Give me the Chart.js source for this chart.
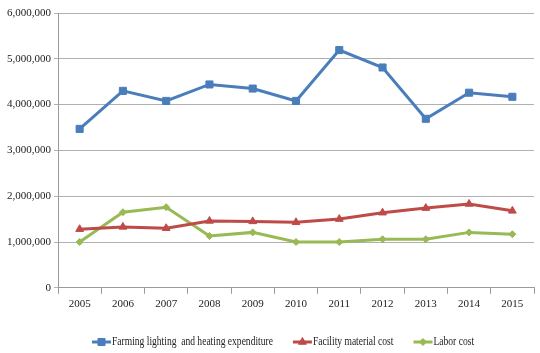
<!DOCTYPE html>
<html lang="en">
<head>
  <meta charset="UTF-8" />
  <title>Cost trends 2005-2015</title>
  <script src="https://cdn.jsdelivr.net/npm/chart.js"></script>
  <style>
    html, body { margin: 0; padding: 0; background: #fff; }
    #wrap { width: 540px; height: 353px; }
  </style>
</head>
<body>
  <div id="wrap"><canvas id="lineChart" width="540" height="353"></canvas></div>

  <script>
    // data
    const years = ['2005', '2006', '2007', '2008', '2009', '2010', '2011', '2012', '2013', '2014', '2015'];
    const lightingHeating = [3470000, 4300000, 4080000, 4440000, 4350000, 4080000, 5190000, 4810000, 3690000, 4260000, 4170000];
    const facilityMaterial = [1280000, 1330000, 1300000, 1460000, 1450000, 1430000, 1500000, 1640000, 1740000, 1830000, 1680000];
    const laborCost = [1000000, 1650000, 1760000, 1130000, 1210000, 1000000, 1000000, 1060000, 1060000, 1210000, 1170000];
    const seriesNames = ['Farming lighting  and heating expenditure', 'Facility material cost', 'Labor cost'];

    const blue = '#4a7ebb', red = '#be4b48', green = '#98b954';
    const serif = "'Liberation Serif', 'DejaVu Serif', serif";

    function series(label, data, color, style, radius) {
      return {
        label: label,
        data: data,
        borderColor: color,
        backgroundColor: color,
        borderWidth: 3,
        pointStyle: style,
        pointRadius: radius,
        pointBorderWidth: 1,
        tension: 0
      };
    }

    // excel-style legend under the plot: short line with the marker on it,
    // text squeezed a bit to look like the condensed font of the original
    const lineLegend = {
      id: 'lineLegend',
      afterDraw(chart) {
        const ctx = chart.ctx;
        const y = 342;
        const squeeze = 0.83;
        let x = 92;
        ctx.save();
        ctx.font = '11.5px ' + serif;
        ctx.textBaseline = 'middle';
        chart.data.datasets.forEach(ds => {
          ctx.strokeStyle = ds.borderColor;
          ctx.fillStyle = ds.borderColor;
          ctx.lineWidth = 3;
          ctx.beginPath();
          ctx.moveTo(x, y);
          ctx.lineTo(x + 19, y);
          ctx.stroke();
          ctx.lineWidth = 1;
          Chart.helpers.drawPoint(ctx, { pointStyle: ds.pointStyle, radius: ds.pointRadius, borderWidth: 1 }, x + 9.5, y);
          const w = ctx.measureText(ds.label).width * squeeze;
          ctx.save();
          ctx.translate(x + 20, y);
          ctx.scale(squeeze, 1);
          ctx.fillStyle = '#222';
          ctx.fillText(ds.label, 0, 0);
          ctx.restore();
          x += 20 + w + 20;
        });
        ctx.restore();
      }
    };

    new Chart(document.getElementById('lineChart'), {
      type: 'line',
      data: {
        labels: years,
        datasets: [
          series(seriesNames[0], lightingHeating, blue, 'rect', 5),
          series(seriesNames[1], facilityMaterial, red, 'triangle', 4.5),
          series(seriesNames[2], laborCost, green, 'rectRot', 3.5)
        ]
      },
      options: {
        responsive: false,
        animation: false,
        layout: { padding: { left: 4, top: 13, right: 3, bottom: 38 } },
        plugins: {
          legend: { display: false },
          tooltip: { enabled: false }
        },
        scales: {
          x: {
            offset: true,
            grid: { offset: true, drawOnChartArea: false, color: '#9a9a9a', tickLength: 6 },
            border: { color: '#9a9a9a' },
            ticks: { color: '#222', font: { family: serif, size: 11 }, padding: 4, maxRotation: 0 }
          },
          y: {
            min: 0,
            max: 6000000,
            grid: { color: '#b0b0b0', tickLength: 4 },
            border: { color: '#9a9a9a' },
            ticks: {
              stepSize: 1000000,
              color: '#222',
              font: { family: serif, size: 11 },
              padding: 3,
              callback: v => v.toLocaleString('en-US')
            }
          }
        }
      },
      plugins: [lineLegend]
    });
  </script>
</body>
</html>
